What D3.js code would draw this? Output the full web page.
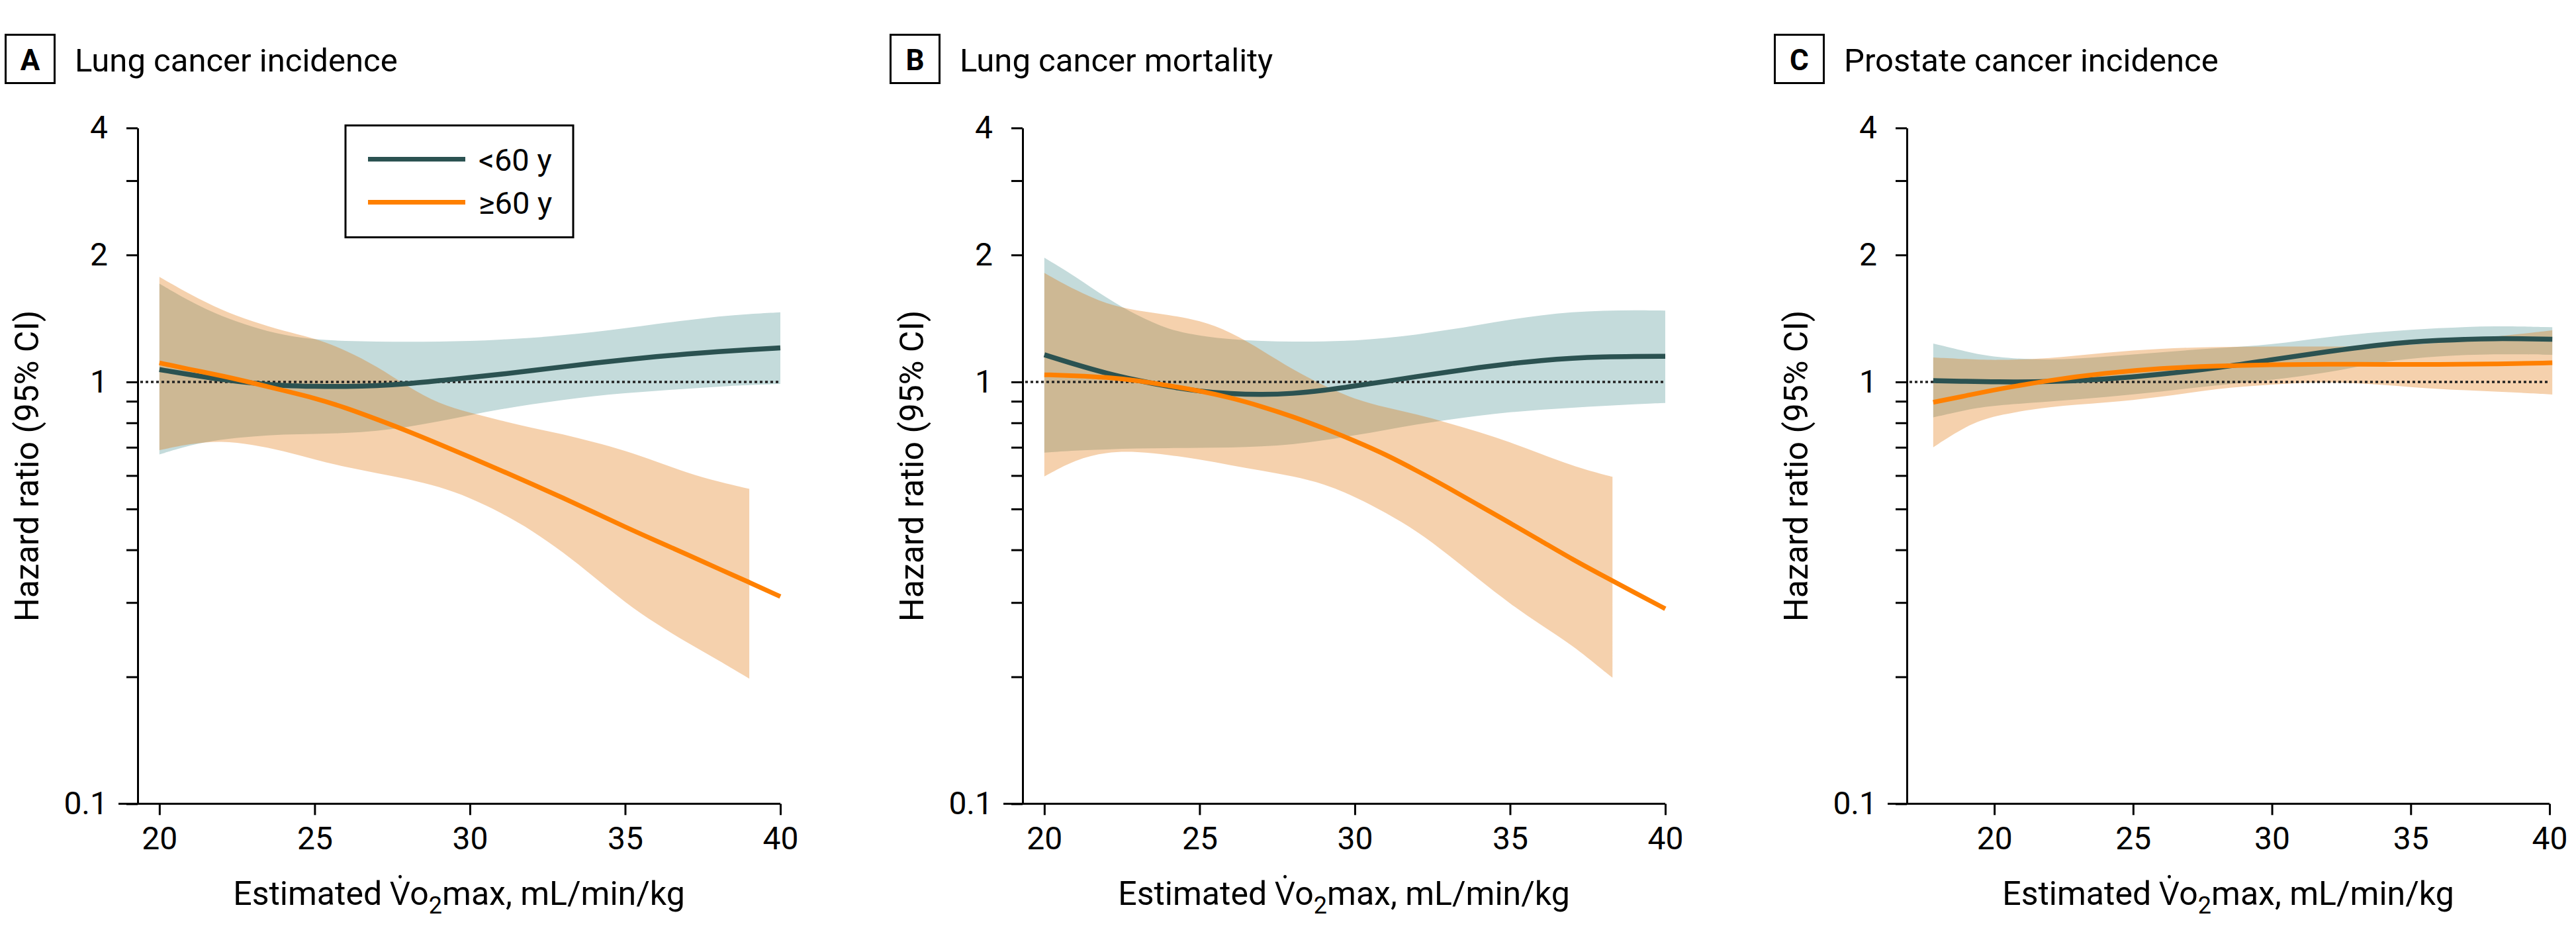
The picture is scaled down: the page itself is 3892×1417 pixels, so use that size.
<!DOCTYPE html>
<html><head><meta charset="utf-8">
<script src="https://cdn.jsdelivr.net/npm/d3@7"></script>
<style>body{margin:0;background:#fff}</style>
</head><body>
<script>
// ---------- labels ----------
const seriesNames = ["<60 y", "\u226560 y"];
const panelLetters = ["A", "B", "C"];
const panelTitles = ["Lung cancer incidence", "Lung cancer mortality", "Prostate cancer incidence"];
const yTickValues = [0.1, 0.2, 0.3, 0.4, 0.5, 0.6, 0.7, 0.8, 0.9, 1, 2, 3, 4];
const yTickLabels = {0.1: "0.1", 1: "1", 2: "2", 4: "4"};
const xTickValues = [20, 25, 30, 35, 40];
const yAxisTitle = "Hazard ratio (95% CI)";

// ---------- Panel A: lung cancer incidence ----------
const xA = [20,21,22,23,24,25,26,27,28,29,30,31,32,33,34,35,36,37,38,39,40];
const youngEstA = [1.07,1.04,1.013,0.993,0.98,0.976,0.975,0.979,0.99,1.007,1.024,1.043,1.064,1.086,1.109,1.129,1.149,1.165,1.18,1.193,1.204];
const youngHiA  = [1.71,1.55,1.43,1.35,1.29,1.26,1.25,1.246,1.245,1.246,1.25,1.26,1.272,1.29,1.313,1.34,1.373,1.40,1.43,1.45,1.462];
const youngLoA  = [0.673,0.71,0.731,0.743,0.751,0.753,0.756,0.765,0.782,0.806,0.834,0.862,0.886,0.907,0.926,0.941,0.953,0.964,0.975,0.983,0.989];
const oldEstA   = [1.11,1.07,1.035,0.995,0.954,0.916,0.869,0.816,0.765,0.713,0.664,0.617,0.573,0.531,0.491,0.453,0.42,0.39,0.361,0.335,0.31];
const xBandOldA = [20,21,22,23,24,25,26,27,28,29,30,31,32,33,34,35,36,37,38,39];
const oldHiA    = [1.775,1.61,1.48,1.39,1.32,1.27,1.19,1.09,0.975,0.887,0.845,0.81,0.778,0.752,0.72,0.688,0.648,0.609,0.58,0.558];
const oldLoA    = [0.689,0.714,0.726,0.71,0.686,0.655,0.628,0.608,0.589,0.565,0.532,0.49,0.445,0.395,0.345,0.3,0.267,0.241,0.219,0.198];

// ---------- Panel B: lung cancer mortality ----------
const xB = [20,21,22,23,24,25,26,27,28,29,30,31,32,33,34,35,36,37,38,39,40];
const youngEstB = [1.16,1.10,1.048,1.008,0.975,0.95,0.937,0.933,0.938,0.955,0.978,1.003,1.03,1.056,1.082,1.105,1.125,1.139,1.147,1.15,1.15];
const youngHiB  = [1.97,1.78,1.58,1.435,1.33,1.285,1.262,1.25,1.246,1.247,1.253,1.27,1.295,1.328,1.366,1.406,1.44,1.465,1.476,1.48,1.476];
const youngLoB  = [0.68,0.688,0.692,0.696,0.697,0.698,0.699,0.703,0.711,0.727,0.747,0.77,0.793,0.814,0.832,0.848,0.86,0.869,0.877,0.885,0.892];
const oldEstB   = [1.04,1.035,1.026,1.008,0.98,0.953,0.918,0.875,0.828,0.777,0.725,0.673,0.616,0.562,0.51,0.463,0.42,0.38,0.347,0.317,0.29];
const xBandOldB = [20,21,22,23,24,25,26,27,28,29,30,31,32,33,34,35,36,37,38,38.3];
const oldHiB    = [1.813,1.65,1.528,1.474,1.443,1.40,1.315,1.19,1.07,0.98,0.909,0.87,0.838,0.80,0.761,0.72,0.675,0.633,0.603,0.596];
const oldLoB    = [0.597,0.655,0.683,0.684,0.672,0.655,0.635,0.616,0.598,0.574,0.535,0.49,0.443,0.39,0.34,0.298,0.265,0.238,0.207,0.199];

// ---------- Panel C: prostate cancer incidence ----------
const xC = [17.8,19,20,22,24,26,28,30,32,34,36,38,40.1];
const youngEstC = [1.007,1.003,1.0,1.0,1.014,1.042,1.078,1.13,1.18,1.23,1.256,1.27,1.262];
const youngHiC  = [1.233,1.18,1.143,1.124,1.148,1.176,1.203,1.225,1.28,1.316,1.342,1.36,1.348];
const youngLoC  = [0.824,0.86,0.88,0.898,0.92,0.948,0.983,1.01,1.05,1.12,1.152,1.166,1.16];
const oldEstC   = [0.895,0.928,0.958,1.01,1.05,1.078,1.092,1.099,1.103,1.1,1.1,1.103,1.11];
const xBandOldC = xC;
const oldHiC    = [1.143,1.133,1.125,1.136,1.174,1.2,1.212,1.213,1.213,1.215,1.235,1.28,1.325];
const oldLoC    = [0.70,0.788,0.833,0.875,0.892,0.92,0.965,0.987,1.003,0.985,0.96,0.95,0.934];

const xDomainMins = [19.3, 19.3, 16.85];

// ---------- build panel tables ----------
const zip3 = (xs, a, b) => xs.map((x, i) => ({x, lo: a[i], hi: b[i]}));
const zip2 = (xs, a) => xs.map((x, i) => ({x, v: a[i]}));
const panels = [
  {young: zip2(xA, youngEstA), youngBand: zip3(xA, youngLoA, youngHiA), old: zip2(xA, oldEstA), oldBand: zip3(xBandOldA, oldLoA, oldHiA)},
  {young: zip2(xB, youngEstB), youngBand: zip3(xB, youngLoB, youngHiB), old: zip2(xB, oldEstB), oldBand: zip3(xBandOldB, oldLoB, oldHiB)},
  {young: zip2(xC, youngEstC), youngBand: zip3(xC, youngLoC, youngHiC), old: zip2(xC, oldEstC), oldBand: zip3(xBandOldC, oldLoC, oldHiC)}
];

// ---------- layout & style ----------
const W = 3892, H = 1417;
const FONT = "Roboto, 'Open Sans', sans-serif";
const panelOffsets = [0, 1337, 2673];
const axisX = 208, plotW = 971, yTop = 193.3, yBot = 1214.3;
const COL_YOUNG = "#2b5251", COL_OLD = "#ff8000";
const BAND_YOUNG = "#c4dbdb", BAND_OLD = "rgb(224,111,0)", BAND_OLD_OP = 0.32;

const svg = d3.select("body").append("svg")
  .attr("width", W).attr("height", H).attr("viewBox", `0 0 ${W} ${H}`)
  .style("background", "#fff").style("font-family", FONT);

const y = d3.scaleLog().domain([0.1, 4]).range([yBot, yTop]);

panels.forEach((p, i) => {
  const g = svg.append("g").attr("transform", `translate(${panelOffsets[i]},0)`);
  const x = d3.scaleLinear().domain([xDomainMins[i], 40]).range([axisX, axisX + plotW]);

  // panel letter and title
  g.append("rect").attr("x", 8.5).attr("y", 52.5).attr("width", 74).attr("height", 73)
    .attr("fill", "none").attr("stroke", "#000").attr("stroke-width", 3);
  g.append("text").attr("x", 45.5).attr("y", 106).attr("text-anchor", "middle")
    .attr("font-size", 44).attr("font-weight", "bold").text(panelLetters[i]);
  g.append("text").attr("x", 113).attr("y", 108).attr("font-size", 49).text(panelTitles[i]);

  const area = d3.area().x(d => x(d.x)).y0(d => y(d.lo)).y1(d => y(d.hi)).curve(d3.curveBasis);
  const line = d3.line().x(d => x(d.x)).y(d => y(d.v)).curve(d3.curveBasis);

  g.append("path").datum(p.youngBand).attr("d", area).attr("fill", BAND_YOUNG);
  g.append("path").datum(p.oldBand).attr("d", area).attr("fill", BAND_OLD).attr("fill-opacity", BAND_OLD_OP);

  // reference line at HR = 1
  g.append("line").attr("x1", axisX + 4).attr("x2", x(40)).attr("y1", y(1)).attr("y2", y(1))
    .attr("stroke", "#222").attr("stroke-width", 3.5).attr("stroke-dasharray", "4,4");

  g.append("path").datum(p.young).attr("d", line).attr("fill", "none")
    .attr("stroke", COL_YOUNG).attr("stroke-width", 7.5);
  g.append("path").datum(p.old).attr("d", line).attr("fill", "none")
    .attr("stroke", COL_OLD).attr("stroke-width", 7);

  // y axis
  const ya = g.append("g").attr("transform", `translate(${axisX},0)`)
    .call(d3.axisLeft(y).tickValues(yTickValues).tickSize(17).tickSizeOuter(0).tickPadding(28)
      .tickFormat(d => yTickLabels[d] || ""));
  ya.selectAll("path, line").attr("stroke", "#000").attr("stroke-width", 3);
  ya.selectAll("text").attr("font-size", 48).attr("font-family", FONT).attr("fill", "#000");

  // x axis
  const xa = g.append("g").attr("transform", `translate(0,${yBot})`)
    .call(d3.axisBottom(x).tickValues(xTickValues).tickSize(17).tickSizeOuter(0));
  xa.select(".domain").attr("d", `M${axisX - 29},0H${x(40)}`);
  xa.selectAll("path, line").attr("stroke", "#000").attr("stroke-width", 3);
  xa.selectAll("text").attr("font-size", 48).attr("font-family", FONT).attr("fill", "#000")
    .attr("y", 69).attr("dy", 0);

  // axis titles
  g.append("text").attr("transform", `translate(58,${(yTop + yBot) / 2}) rotate(-90)`)
    .attr("text-anchor", "middle").attr("font-size", 50).text(yAxisTitle);
  const xt = g.append("text").attr("x", axisX + plotW / 2).attr("y", 1367)
    .attr("text-anchor", "middle").attr("font-size", 50);
  xt.append("tspan").text("Estimated V\u0307o");
  xt.append("tspan").attr("dy", 13).attr("font-size", 36).text("2");
  xt.append("tspan").attr("dy", -13).text("max, mL/min/kg");

  // legend (panel A only)
  if (i === 0) {
    const lg = g.append("g");
    lg.append("rect").attr("x", 522).attr("y", 189.5).attr("width", 344).attr("height", 169)
      .attr("fill", "#fff").attr("stroke", "#000").attr("stroke-width", 3);
    [COL_YOUNG, COL_OLD].forEach((c, k) => {
      const ly = 240.5 + k * 65;
      lg.append("line").attr("x1", 556).attr("x2", 703).attr("y1", ly).attr("y2", ly)
        .attr("stroke", c).attr("stroke-width", 7);
      lg.append("text").attr("x", 723).attr("y", ly + 17.5).attr("font-size", 47).text(seriesNames[k]);
    });
  }
});
</script>
</body></html>
